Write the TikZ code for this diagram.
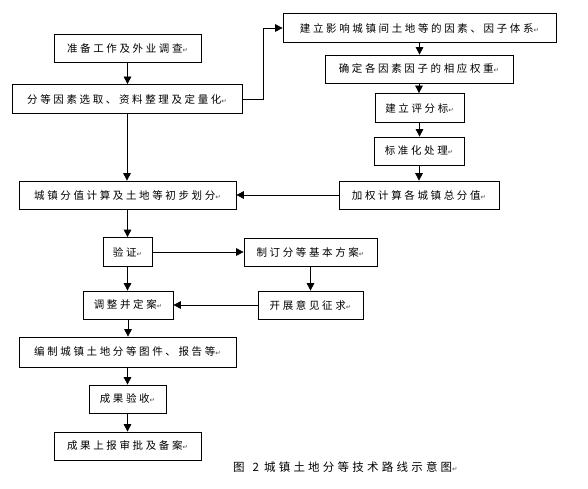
\documentclass[tikz,border=0pt]{standalone}
\usepackage{fontspec}
\setmainfont{Noto Sans CJK SC}[LetterSpace=25]
\newfontfamily\capfont{Noto Sans CJK SC}[LetterSpace=28]
\newfontfamily\retfont{DejaVu Sans}
\usetikzlibrary{arrows.meta}
\newcommand\ret{{\retfont\fontsize{6.5}{6.5}\selectfont\textcolor{black!70}{↵}}}
\tikzset{
  box/.style={draw, line width=0.7pt, inner sep=0pt, font=\fontsize{10.5}{12}\selectfont, align=center},
  arr/.style={line width=0.7pt, -{Triangle[length=7.5pt,width=7.5pt]}},
}
\begin{document}
\begin{tikzpicture}[x=1pt,y=-1pt]
\useasboundingbox (0,0) rectangle (588,489);
\node[box, minimum width=147pt, minimum height=28pt] (n1) at (127.5,48) {准备工作及外业调查\ret};
\node[box, minimum width=230pt, minimum height=29pt] (n2) at (127,99) {分等因素选取、资料整理及定量化\ret};
\node[box, minimum width=273pt, minimum height=29pt] (n3) at (419.5,28) {建立影响城镇间土地等的因素、因子体系\ret};
\node[box, minimum width=188pt, minimum height=28pt] (n4) at (419,69) {确定各因素因子的相应权重\ret};
\node[box, minimum width=89pt, minimum height=29pt] (n5) at (419.5,108) {建立评分标\ret};
\node[box, minimum width=90pt, minimum height=28pt] (n6) at (419,151) {标准化处理\ret};
\node[box, minimum width=160pt, minimum height=28pt] (n7) at (419,195) {加权计算各城镇总分值\ret};
\node[box, minimum width=217pt, minimum height=28pt] (n8) at (127.5,195) {城镇分值计算及土地等初步划分\ret};
\node[box, minimum width=49pt, minimum height=29pt] (n9) at (127.5,252) {验证\ret};
\node[box, minimum width=133pt, minimum height=28pt] (n10) at (310.5,252) {制订分等基本方案\ret};
\node[box, minimum width=90pt, minimum height=28pt] (n11) at (128,305) {调整并定案\ret};
\node[box, minimum width=105pt, minimum height=28pt] (n12) at (310.5,305) {开展意见征求\ret};
\node[box, minimum width=217pt, minimum height=30pt] (n13) at (127.5,352) {编制城镇土地分等图件、报告等\ret};
\node[box, minimum width=77pt, minimum height=28pt] (n14) at (127.5,399) {成果验收\ret};
\node[box, minimum width=147pt, minimum height=28pt] (n15) at (127.5,446) {成果上报审批及备案\ret};
\node[font=\capfont\fontsize{11.5}{12}\selectfont, anchor=west, inner sep=0pt] (cap) at (233,467) {图\hspace*{8pt}2\hspace*{5pt}城镇土地分等技术路线示意图\ret};
\draw[arr] (n1.south) -- (n1.south |- n2.north);
\draw[arr] (n2.east) -- ++(21,0) |- (n3.west);
\draw[arr] (n2.south) -- (n2.south |- n8.north);
\draw[arr] (n3.south) -- (n3.south |- n4.north);
\draw[arr] (n4.south) -- (n4.south |- n5.north);
\draw[arr] (n5.south) -- (n5.south |- n6.north);
\draw[arr] (n6.south) -- (n6.south |- n7.north);
\draw[arr] (n7.west) -- (n8.east);
\draw[arr] (n8.south) -- (n8.south |- n9.north);
\draw[arr] (n9.east) -- (n10.west);
\draw[arr] (n10.south) -- (n10.south |- n12.north);
\draw[arr] (n12.west) -- (n11.east);
\draw[arr] (n9.south) -- (n9.south |- n11.north);
\draw[arr] (n11.south) -- (n11.south |- n13.north);
\draw[arr] (n13.south) -- (n13.south |- n14.north);
\draw[arr] (n14.south) -- (n14.south |- n15.north);
\end{tikzpicture}
\end{document}
